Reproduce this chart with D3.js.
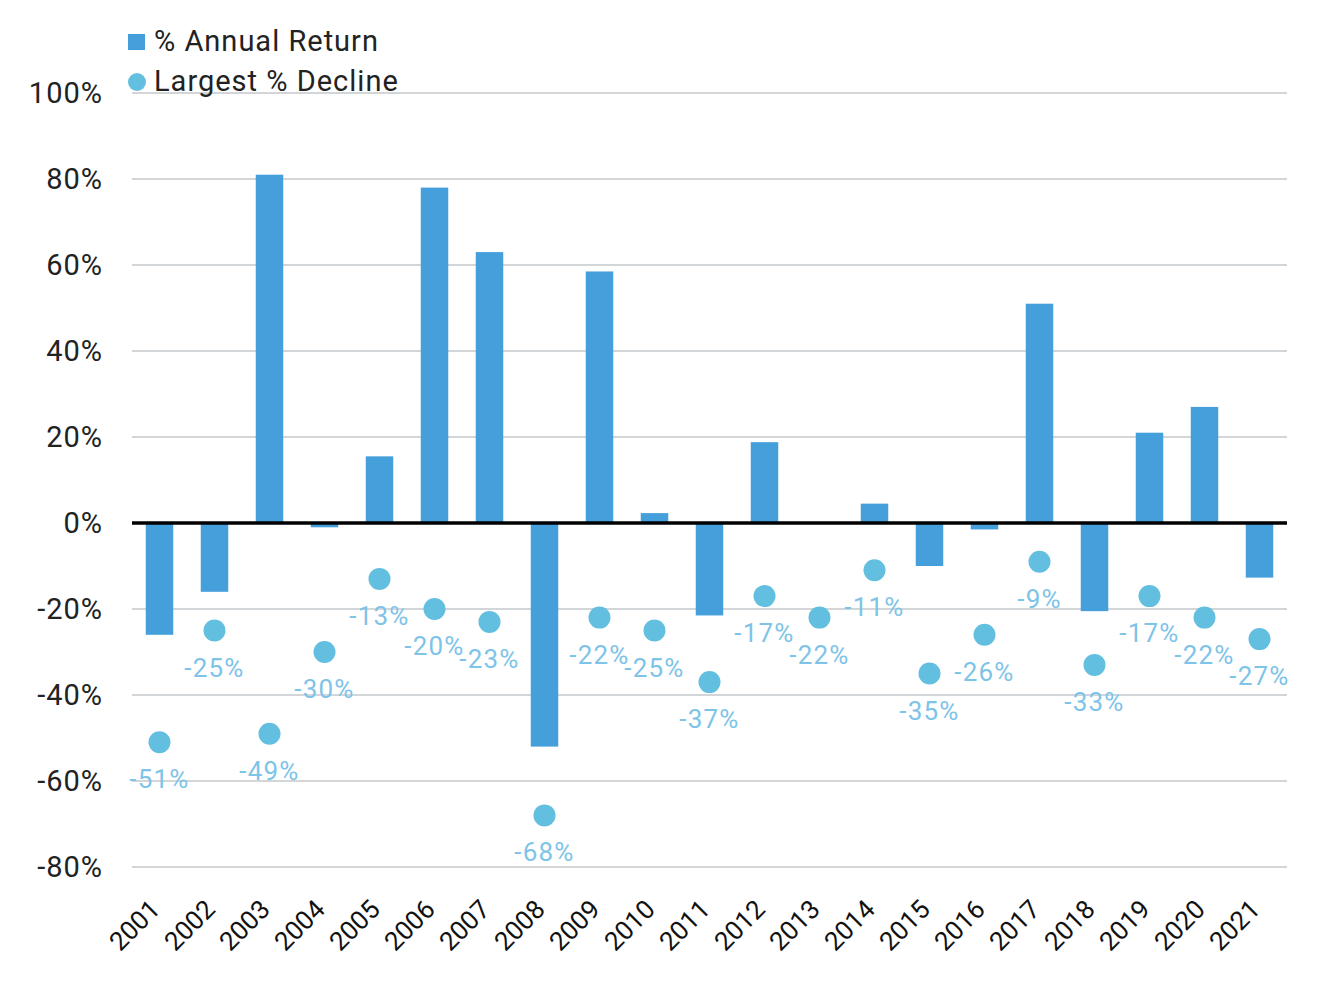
<!DOCTYPE html>
<html>
<head>
<meta charset="utf-8">
<script src="https://cdn.jsdelivr.net/npm/d3@7"></script>
<style>
  body { margin: 0; background: #fff; }
  svg { font-family: Roboto, "Noto Sans", sans-serif; }
</style>
</head>
<body>
<div id="chart"></div>
<script>
// chart data
const years = ['2001', '2002', '2003', '2004', '2005', '2006', '2007', '2008', '2009', '2010', '2011',
  '2012', '2013', '2014', '2015', '2016', '2017', '2018', '2019', '2020', '2021'];
const annualReturn = [-26, -16, 81, -1, 15.5, 78, 63, -52, 58.5, 2.3, -21.5,
  18.8, 0, 4.5, -10, -1.5, 51, -20.5, 21, 27, -12.7];
const largestDecline = [-51, -25, -49, -30, -13, -20, -23, -68, -22, -25, -37,
  -17, -22, -11, -35, -26, -9, -33, -17, -22, -27];
const yTicks = [-80, -60, -40, -20, 0, 20, 40, 60, 80, 100];
const seriesNames = ['% Annual Return', 'Largest % Decline'];

const barColor = '#449fdb';
const dotColor = '#62bfe0';
const labelColor = '#7ec3e8';

const W = 1324, H = 982;
const margin = { top: 93, right: 37, bottom: 115, left: 132 };

const svg = d3.select('#chart')
  .append('svg')
  .attr('width', W)
  .attr('height', H);

const x = d3.scaleBand()
  .domain(years)
  .range([margin.left, W - margin.right])
  .paddingInner(0.5)
  .paddingOuter(0.25);

const y = d3.scaleLinear()
  .domain([-80, 100])
  .range([H - margin.bottom, margin.top]);

const cx = d => x(d) + x.bandwidth() / 2;

// gridlines
svg.append('g')
  .selectAll('line')
  .data(yTicks.filter(t => t !== 0))
  .join('line')
  .attr('x1', margin.left)
  .attr('x2', W - margin.right)
  .attr('y1', d => y(d))
  .attr('y2', d => y(d))
  .attr('stroke', '#d3d6d9')
  .attr('stroke-width', 2);

// y axis labels
const yAxis = svg.append('g')
  .attr('transform', `translate(${margin.left - 29},0)`)
  .call(d3.axisLeft(y).tickValues(yTicks).tickSize(0).tickPadding(0).tickFormat(d => d + '%'));
yAxis.select('.domain').remove();
yAxis.selectAll('text')
  .attr('font-size', 29)
  .attr('letter-spacing', 1)
  .attr('fill', '#222')
  .attr('font-family', 'Roboto, sans-serif');

// bars
svg.append('g')
  .selectAll('rect')
  .data(years)
  .join('rect')
  .attr('x', d => x(d))
  .attr('width', x.bandwidth())
  .attr('y', (d, i) => y(Math.max(0, annualReturn[i])))
  .attr('height', (d, i) => Math.abs(y(annualReturn[i]) - y(0)))
  .attr('fill', barColor);

// zero line
svg.append('line')
  .attr('x1', margin.left)
  .attr('x2', W - margin.right)
  .attr('y1', y(0))
  .attr('y2', y(0))
  .attr('stroke', '#000')
  .attr('stroke-width', 3.5);

// decline dots + labels
svg.append('g')
  .selectAll('circle')
  .data(years)
  .join('circle')
  .attr('cx', d => cx(d))
  .attr('cy', (d, i) => y(largestDecline[i]))
  .attr('r', 11)
  .attr('fill', dotColor);

svg.append('g')
  .selectAll('text')
  .data(years)
  .join('text')
  .attr('x', d => cx(d))
  .attr('y', (d, i) => y(largestDecline[i]) + 46)
  .attr('text-anchor', 'middle')
  .attr('font-size', 26)
  .attr('letter-spacing', 1.2)
  .attr('fill', labelColor)
  .text((d, i) => largestDecline[i] + '%');

// x axis labels (rotated)
svg.append('g')
  .selectAll('text')
  .data(years)
  .join('text')
  .attr('transform', d => `translate(${cx(d) + 2},${H - margin.bottom + 44}) rotate(-45)`)
  .attr('text-anchor', 'end')
  .attr('font-size', 26)
  .attr('fill', '#111')
  .text(d => d);

// legend
const legend = svg.append('g');
legend.append('rect')
  .attr('x', 128).attr('y', 34)
  .attr('width', 17).attr('height', 16)
  .attr('fill', barColor);
legend.append('circle')
  .attr('cx', 137).attr('cy', 82)
  .attr('r', 9)
  .attr('fill', dotColor);
legend.selectAll('text')
  .data(seriesNames)
  .join('text')
  .attr('x', 154)
  .attr('y', (d, i) => 51 + i * 40)
  .attr('font-size', 29)
  .attr('letter-spacing', 1)
  .attr('fill', '#222')
  .text(d => d);
</script>
</body>
</html>
